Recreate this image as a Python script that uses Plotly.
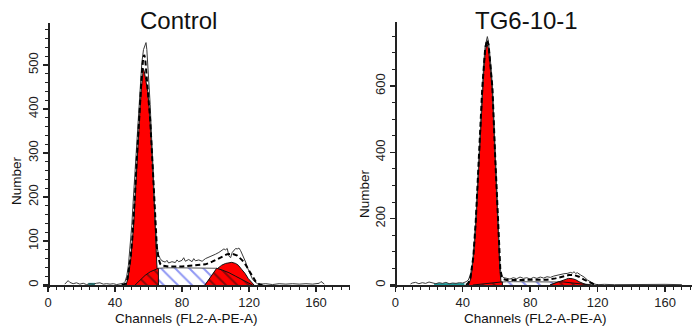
import plotly.graph_objects as go

# ---------------- Control (left panel) ----------------
ctrl_raw_ch = [10, 12, 13, 15, 17, 19, 21, 23, 25, 27, 29, 31, 33, 35, 37, 39, 41, 43, 45, 46, 47, 48, 49, 50,
               51, 52, 53, 54, 55, 56, 57, 58, 58.5, 59, 60, 61, 62, 63, 64, 65, 66, 67, 68, 70, 71, 72, 74,
               76, 77, 78, 80, 81, 82, 84, 86, 87, 88, 90, 92, 94, 96, 98, 100, 102, 104, 105, 106, 107, 108,
               109, 110, 111, 112, 113, 114, 115, 116, 117, 118, 119, 120, 121, 122, 123, 124, 125, 127, 130,
               134, 138, 142, 146, 150, 154, 158, 162, 163, 165]
ctrl_raw_cnt = [2, 10, 6, 3, 5, 2, 4, 1, 3, 2, 4, 5, 2, 3, 2, 3, 1, 2, 4, 8, 20, 45, 85, 135,
                200, 265, 330, 395, 450, 505, 535, 548, 551, 535, 480, 410, 320, 220, 140, 90, 68, 60, 55, 52, 56, 50, 53,
                51, 57, 53, 56, 62, 54, 58, 53, 60, 55, 57, 54, 60, 63, 67, 70, 74, 79, 82, 80, 83, 66,
                62, 74, 80, 83, 82, 84, 78, 70, 62, 52, 40, 30, 22, 14, 9, 5, 3, 2, 3,
                1, 3, 2, 3, 2, 3, 2, 4, 8, 2]

ctrl_fit_ch = [44, 46.5, 47.5, 48.5, 49.4, 50.3, 51, 52, 53, 54, 55, 56, 56.8, 57.4, 58, 59, 60, 61, 62, 63, 64,
               65, 66, 67, 68, 72, 80, 88, 94, 98, 101, 104, 107, 110, 113, 116, 118, 120, 122, 124, 126, 128]
ctrl_fit_cnt = [0, 3, 15, 38, 65, 105, 140, 210, 285, 355, 420, 480, 515, 523, 515, 470, 430, 375, 305, 220, 140,
                85, 60, 48, 44, 42, 42, 44, 47, 53, 59, 65, 70, 71, 67, 56, 46, 33, 19, 8, 2, 0]

ctrl_g1_ch = [46.6, 47.5, 48.5, 49.4, 50.3, 51, 52, 53, 54, 55, 55.8, 56.4, 56.9, 57.5, 58.5, 59.5, 60.5, 61.5,
              62.5, 63.3, 64, 64.9, 65.5, 65.9]
ctrl_g1_cnt = [0, 12, 35, 60, 100, 130, 200, 276, 345, 405, 450, 480, 492, 485, 465, 440, 400, 340,
               276, 200, 125, 50, 20, 0]

ctrl_g2_ch = [93.7, 97, 100.7, 103.7, 106, 109.7, 112, 113.6, 115.5, 117.6, 119.5, 121.6, 123]
ctrl_g2_cnt = [0, 15, 36, 45, 49, 51.5, 49, 45, 36, 26.5, 15, 6, 0]

ctrl_s_ch = [52, 55, 58, 61, 64, 66, 70, 80, 90, 100.7, 104, 108, 112, 116, 120, 122]
ctrl_s_cnt = [0, 12, 22, 30, 36, 38, 39, 39, 39, 38, 34, 28, 20, 12, 4, 0]

ctrl_h1_ch = [52, 55, 58, 61, 64, 65.9, 65.9]
ctrl_h1_cnt = [0, 12, 22, 30, 36, 38, 0]
ctrl_h2_ch = [93.7, 100.7, 104, 108, 112, 116, 120, 122]
ctrl_h2_cnt = [0, 38, 34, 28, 20, 12, 4, 0]

ctrl_deb_ch = [24, 28]
ctrl_deb_cnt = [2, 2]

# ---------------- TG6-10-1 (right panel) ----------------
tg_raw_ch = [9, 10, 12, 14, 16, 18, 20, 22, 24, 26, 28, 30, 32, 34, 36, 38, 40, 42, 43.3, 44.5, 45.5, 46.3,
             47, 47.7, 48.7, 49.7, 50.7, 51.6, 52.5, 53.3, 54.2, 54.6, 55.2, 56.4, 57.6, 58.4, 59.2, 60, 60.8,
             61.5, 62.1, 62.7, 63.5, 64.5, 66, 68, 70, 72, 74, 76, 78, 80, 82, 84, 86, 88, 90, 92, 94, 96, 98,
             100, 102, 104, 105, 106, 107, 108, 110, 112, 114, 116, 118, 120, 124, 130, 140, 150, 160, 170]
tg_raw_cnt = [3, 6, 8, 4, 7, 5, 9, 6, 4, 7, 5, 8, 4, 6, 5, 7, 6, 10, 15, 30, 55, 90,
              135, 190, 290, 395, 500, 600, 670, 720, 745, 749, 735, 680, 600, 500, 395, 290, 190,
              100, 55, 35, 25, 22, 20, 18, 22, 19, 24, 20, 22, 18, 23, 20, 24, 21, 25, 23, 27, 30, 32,
              34, 35, 38, 36, 40, 35, 37, 30, 24, 15, 8, 3, 1, 2, 1, 2, 1, 2, 1]

tg_fit_ch = [42, 43.3, 44.5, 45.5, 46.3, 47.7, 49.7, 51.6, 53.3, 54.4, 55.3, 57.6, 59.2, 60.8, 61.5, 62.3, 63.2,
             64, 66, 70, 80, 90, 95, 100, 103, 106, 109, 112, 115, 118, 120]
tg_fit_cnt = [0, 6, 20, 50, 85, 190, 392, 595, 712, 739, 725, 595, 392, 190, 95, 45, 25,
              18, 15, 15, 15, 16, 20, 26, 30, 30, 25, 16, 8, 2, 0]

tg_g1_ch = [43.3, 44.5, 45.5, 46.3, 47, 47.7, 48.7, 49.7, 50.7, 51.6, 52.5, 53.3, 54.2, 55.2, 56.4, 57.6, 58.4,
            59.2, 60, 60.8, 61.5, 62.1, 62.7, 63.5]
tg_g1_cnt = [0, 15, 45, 80, 125, 181, 280, 382, 485, 583, 650, 700, 729, 715, 660, 583, 485,
             382, 280, 181, 80, 40, 10, 0]

tg_g2_ch = [91.8, 94, 96, 98, 100, 102.7, 105, 107, 109, 111, 113.6]
tg_g2_cnt = [0, 4, 8, 13, 17, 20, 19, 16, 10, 5, 0]

tg_s_ch = [44, 50, 56, 62, 66, 70, 80, 90, 96, 100, 104, 108, 112, 116, 118]
tg_s_cnt = [0, 3, 6, 9, 10, 10, 10, 10, 10, 9, 7, 5, 3, 1, 0]

tg_h1_ch = [46, 52, 58, 63.5, 63.5]
tg_h1_cnt = [0, 4, 7, 9.5, 0]
tg_h2_ch = [91.8, 97, 100, 104, 108, 112, 116]
tg_h2_cnt = [0, 10, 9, 7, 5, 3, 0]

tg_deb_ch = [23, 41]
tg_deb_cnt = [2, 2]

# ---------------- styling ----------------
FONT = "Arial, Liberation Sans, sans-serif"
RED = "#FF0000"
BLUE = "#2030E8"
W, H = 692, 331

fig = go.Figure()


def add_panel(xa, ya, raw, fit, g1, g2, s, h1, h2, deb):
    common = dict(xaxis=xa, yaxis=ya, mode="lines", showlegend=False, hoverinfo="skip")
    # S phase (blue hatch)
    fig.add_trace(go.Scatter(x=s[0], y=s[1], fill="toself", fillcolor="white",
                             fillpattern=dict(shape="\\", fgcolor=BLUE, bgcolor="white", size=10, solidity=0.2),
                             line=dict(color="#555555", width=1), **common))
    # G2 red
    fig.add_trace(go.Scatter(x=g2[0], y=g2[1], fill="toself", fillcolor=RED,
                             line=dict(color="#111111", width=1), **common))
    # hatch overlap under G2
    fig.add_trace(go.Scatter(x=h2[0], y=h2[1], fill="toself", fillcolor=RED,
                             fillpattern=dict(shape="\\", fgcolor="#111111", bgcolor=RED, size=8, solidity=0.25),
                             line=dict(color="#111111", width=1), **common))
    # G1 red
    fig.add_trace(go.Scatter(x=g1[0], y=g1[1], fill="toself", fillcolor=RED,
                             line=dict(color="#111111", width=1), **common))
    # hatch overlap under G1
    fig.add_trace(go.Scatter(x=h1[0], y=h1[1], fill="toself", fillcolor=RED,
                             fillpattern=dict(shape="\\", fgcolor="#111111", bgcolor=RED, size=8, solidity=0.25),
                             line=dict(color="#111111", width=1), **common))
    # debris (teal)
    fig.add_trace(go.Scatter(x=deb[0], y=deb[1], line=dict(color="#1E9A9A", width=2.5), **common))
    # raw data
    fig.add_trace(go.Scatter(x=raw[0], y=raw[1], line=dict(color="#3A3A3A", width=1), **common))
    # model fit
    fig.add_trace(go.Scatter(x=fit[0], y=fit[1], line=dict(color="#000000", width=2, dash="5px,3px"), **common))


add_panel("x", "y", (ctrl_raw_ch, ctrl_raw_cnt), (ctrl_fit_ch, ctrl_fit_cnt), (ctrl_g1_ch, ctrl_g1_cnt),
          (ctrl_g2_ch, ctrl_g2_cnt), (ctrl_s_ch, ctrl_s_cnt), (ctrl_h1_ch, ctrl_h1_cnt),
          (ctrl_h2_ch, ctrl_h2_cnt), (ctrl_deb_ch, ctrl_deb_cnt))
add_panel("x2", "y2", (tg_raw_ch, tg_raw_cnt), (tg_fit_ch, tg_fit_cnt), (tg_g1_ch, tg_g1_cnt),
          (tg_g2_ch, tg_g2_cnt), (tg_s_ch, tg_s_cnt), (tg_h1_ch, tg_h1_cnt),
          (tg_h2_ch, tg_h2_cnt), (tg_deb_ch, tg_deb_cnt))

axis_line = dict(showline=True, linecolor="#222222", linewidth=1.5, showgrid=False, zeroline=False,
                 ticks="outside", ticklen=5, tickwidth=1.5, tickcolor="#222222",
                 tickfont=dict(family=FONT, size=13, color="#222222"))


def px_x(p):
    return p / W


def px_y(p):
    return 1 - p / H


minor_x = dict(dtick=5, tick0=0, ticklen=3, ticks="outside", tickcolor="#222222", tickwidth=1)

fig.update_layout(
    width=W, height=H, margin=dict(l=0, r=0, t=0, b=0),
    paper_bgcolor="white", plot_bgcolor="white",
    xaxis=dict(domain=[px_x(43), px_x(349.5)], range=[-3, 180], anchor="free", position=px_y(285),
               tick0=0, dtick=40, minor=minor_x, **axis_line),
    yaxis=dict(domain=[px_y(288), px_y(23)], range=[-6.8, 595.5], anchor="free", position=px_x(48),
               tick0=0, dtick=100, tickangle=-90,
               minor=dict(dtick=20, tick0=0, ticklen=3, ticks="outside", tickcolor="#222222", tickwidth=1),
               **axis_line),
    xaxis2=dict(domain=[px_x(390), 1.0], range=[-3.15, 176], anchor="free", position=px_y(285),
                tick0=0, dtick=40, minor=minor_x, **axis_line),
    yaxis2=dict(domain=[px_y(288), px_y(22)], range=[-9, 793], anchor="free", position=px_x(395.3),
                tick0=0, dtick=200, tickangle=-90,
                minor=dict(dtick=50, tick0=0, ticklen=3, ticks="outside", tickcolor="#222222", tickwidth=1),
                **axis_line),
)

annots = [
    dict(text="Control", x=px_x(178), y=px_y(20), size=24, angle=0),
    dict(text="TG6-10-1", x=px_x(526), y=px_y(20), size=24, angle=0),
    dict(text="Channels (FL2-A-PE-A)", x=px_x(186), y=px_y(318.5), size=13.5, angle=0),
    dict(text="Channels (FL2-A-PE-A)", x=px_x(535), y=px_y(318.5), size=13.5, angle=0),
    dict(text="Number", x=px_x(16), y=px_y(181), size=13.5, angle=-90),
    dict(text="Number", x=px_x(364), y=px_y(194), size=13.5, angle=-90),
]
for a in annots:
    fig.add_annotation(text=a["text"], x=a["x"], y=a["y"], xref="paper", yref="paper",
                       xanchor="center", yanchor="middle", showarrow=False, textangle=a["angle"],
                       font=dict(family=FONT, size=a["size"], color="#111111"))

fig.write_html("out.html", config={"displayModeBar": False, "staticPlot": True},
               post_script="document.body.style.margin='0';document.body.style.overflow='hidden';")
